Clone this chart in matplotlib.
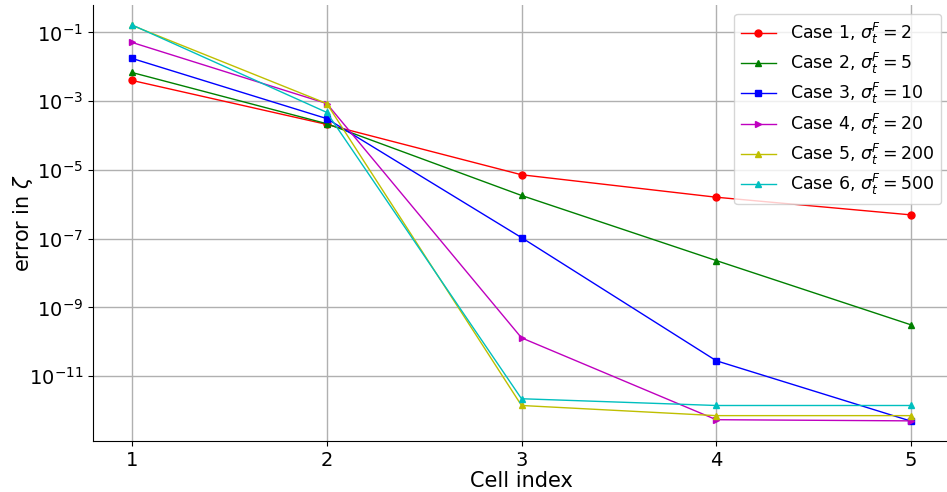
import numpy as np
import matplotlib
matplotlib.use("Agg")
import matplotlib.pyplot as plt

cells = [1, 2, 3, 4, 5]
case1 = [4.0e-3, 2.1e-4, 7.2e-6, 1.6e-6, 4.9e-7]
case2 = [6.8e-3, 2.2e-4, 1.8e-6, 2.3e-8, 3.1e-10]
case3 = [1.75e-2, 3.1e-4, 1.07e-7, 2.8e-11, 4.9e-13]
case4 = [5.1e-2, 8.5e-4, 1.3e-10, 5.4e-13, 5.0e-13]
case5 = [0.16, 8.5e-4, 1.4e-12, 7.1e-13, 7.1e-13]
case6 = [0.165, 4.7e-4, 2.2e-12, 1.4e-12, 1.4e-12]

labels = [r"Case 1, $\sigma_t^F = 2$", r"Case 2, $\sigma_t^F = 5$",
          r"Case 3, $\sigma_t^F = 10$", r"Case 4, $\sigma_t^F = 20$",
          r"Case 5, $\sigma_t^F = 200$", r"Case 6, $\sigma_t^F = 500$"]
series = [case1, case2, case3, case4, case5, case6]
colors = ['r', 'g', 'b', 'm', 'y', 'c']
markers = ['o', '^', 's', '>', '^', '^']

fig = plt.figure(figsize=(9.47, 4.92), dpi=100)
ax = fig.add_axes([0.0982, 0.1037, 0.905, 0.886])

for vals, c, m, lab in zip(series, colors, markers, labels):
    ax.plot(cells, vals, color=c, marker=m, markersize=5, linewidth=1, label=lab)

ax.set_yscale('log')
ax.set_xlim(0.8, 5.2)
ax.set_yticks([1e-1, 1e-3, 1e-5, 1e-7, 1e-9, 1e-11])
ax.yaxis.set_minor_locator(matplotlib.ticker.NullLocator())
ax.set_xticks(cells)
ax.tick_params(labelsize=14)
ax.grid(True, color='#b0b0b0', linewidth=1)
ax.spines['top'].set_visible(False)
ax.spines['right'].set_visible(False)
ax.set_xlabel('Cell index', fontsize=15, labelpad=1)
ax.set_ylabel(r'error in $\zeta$', fontsize=15)
ax.yaxis.set_label_coords(-0.068, 0.5)
ax.legend(loc='upper right', fontsize=12.5, labelspacing=0.3)

fig.savefig('out.png', dpi=100)
